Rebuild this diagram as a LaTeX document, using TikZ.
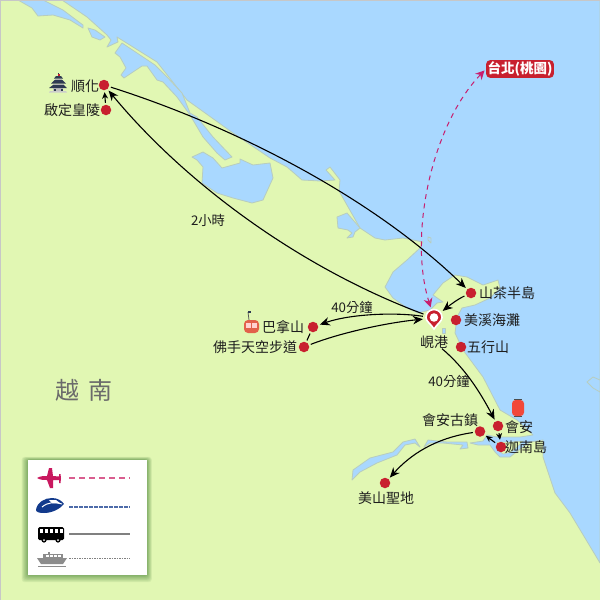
\documentclass[tikz,border=0pt]{standalone}
\usepackage{fontspec}
\setmainfont{Noto Sans CJK TC}
\usetikzlibrary{arrows.meta}
\definecolor{land}{HTML}{E1F7B3}
\definecolor{sea}{HTML}{A9D8FF}
\definecolor{shore}{HTML}{B8CDBE}
\definecolor{dotred}{HTML}{C8202F}
\definecolor{magline}{HTML}{C81E6E}
\definecolor{planered}{HTML}{C9185F}
\definecolor{trainblue}{HTML}{123A8C}
\definecolor{txt}{HTML}{1E1E1E}
\definecolor{roof}{HTML}{2E3A52}
\definecolor{cabin}{HTML}{E2604B}
\definecolor{lantern}{HTML}{F2483A}
\tikzset{
  water/.style={fill=sea,draw=shore,line width=0.8pt,line join=round},
  stop/.style={circle,fill=dotred,minimum size=10.5pt,inner sep=0pt,outer sep=2pt},
  lbl/.style={font=\fontsize{14}{15}\selectfont,text=txt,inner sep=0pt},
  lblsmall/.style={font=\fontsize{13.3}{15}\selectfont,text=txt,inner sep=0pt},
  conn/.style={black,line width=1.1pt,-{Stealth[length=10pt,width=8.5pt]}},
  smallconn/.style={black,line width=1.1pt,-{Stealth[length=6.5pt,width=6pt]}},
  flight/.style={magline,line width=1pt,dash pattern=on 5pt off 4.5pt,{Stealth[length=9pt,width=9pt]}-{Stealth[length=9pt,width=9pt]}}
}
\begin{document}
\begin{tikzpicture}[x=1pt,y=-1pt]
\useasboundingbox (0,0) rectangle (600,600);
\fill[land] (0,0) rectangle (600,600);
% sea
\path[water] (62,0)--(87,17)--(107,35)--(111,40)--(107,47)--(118,42)--(117,37)--(157,62)--(187,100)--(233,133)--(270,158)--(287,167)--(302,180)--(320,181)--(335,180)--(326,170)--(330,167)--(340,180)--(339,191)--(360,228)--(375,238)--(385,240)--(403,238)--(423,242)--(420,248)--(407,260)--(393,272)--(385,287)--(393,298)--(407,308)--(418,313)--(430,310)--(437,303)--(443,302)--(433,295)--(443,283)--(455,275)--(467,277)--(483,285)--(498,280)--(500,288)--(490,298)--(475,305)--(462,308)--(457,317)--(455,333)--(463,350)--(483,377)--(500,410)--(517,420)--(533,435)--(520,437)--(497,437)--(487,435)--(483,441)--(470,443)--(478,445)--(490,445)--(495,452)--(500,457)--(510,457)--(520,449)--(530,442)--(543,440)--(543,457)--(555,493)--(570,513)--(600,563)--(600,0)--cycle;
% lagoons
\path[water] (18,0)--(32,8)--(38,16)--(53,15)--(70,20)--(83,28)--(83,25)--(63,10)--(43,0)--cycle;
\path[water] (88,28)--(95,30)--(105,37)--(100,40)--(92,37)--cycle;
\path[water] (122,43)--(140,55)--(155,65)--(167,77)--(182,93)--(190,113)--(197,117)--(213,137)--(232,157)--(225,160)--(217,153)--(203,137)--(190,115)--(177,97)--(163,82)--(157,80)--(147,66)--(142,66)--(124,78)--(121,75)--(126,68)--(120,57)--(115,53)--cycle;
\path[water] (192,157)--(203,152)--(213,158)--(222,168)--(240,163)--(240,159)--(253,165)--(270,163)--(273,178)--(263,200)--(252,203)--(233,198)--(217,193)--(202,183)--(203,167)--(197,160)--cycle;
\path[water] (337,217)--(347,213)--(360,228)--(355,232)--(353,237)--(347,238)--(352,233)--(348,230)--(338,228)--cycle;
\path[water] (428,237)--(431,238)--(431,243)--(428,240)--cycle;
\path[water] (442,328)--(445,328)--(445,333)--(442,333)--cycle;
\path[water] (587,382)--(593,377)--(600,380)--(600,392)--(593,388)--cycle;
% rivers
\path[water] (352,480)--(353,470)--(370,458)--(393,452)--(403,442)--(415,439)--(420,447)--(415,443)--(405,445)--(397,455)--(377,463)--(360,472)--cycle;
\path[water] (424,447)--(428,440)--(447,442)--(467,442)--(468,448)--(460,449)--(463,445)--(443,443)--(430,443)--cycle;
% island
\path[fill=land,draw=shore,line width=0.5pt] (497,442)--(510,442)--(523,441)--(515,449)--(511,452)--(503,454)--(498,450)--cycle;
% frame
\draw[black!22,line width=1pt] (0,0) rectangle (600,600);
% stops
\node[stop] (hue) at (104,85) {};
\node[stop] (khai) at (106,110) {};
\node[stop] (sontra) at (471,293) {};
\node[stop] (mykhe) at (456,320) {};
\node[stop] (nguhanh) at (461,347) {};
\node[stop] (hoian) at (498,426) {};
\node[stop] (ancient) at (480,431.5) {};
\node[stop] (canam) at (501,447) {};
\node[stop] (myson) at (385,483) {};
\node[stop] (bana) at (313,327) {};
\node[stop] (golden) at (304,347) {};
\node[circle,minimum size=22pt,inner sep=0pt] (danang) at (434,318) {};
% labels
\node[lbl] (lhue) at (85,86) {順化};
\node[lbl] (lkhai) at (72,110) {啟定皇陵};
\node[lblsmall] (ltwo) at (208,220) {2小時};
\node[lbl] (lsontra) at (507,293) {山茶半島};
\node[lbl] (lmykhe) at (492,320) {美溪海灘};
\node[lbl] (lnguhanh) at (488,347) {五行山};
\node[lblsmall] (lforty) at (352,307) {40分鐘};
\node[lbl] (lbana) at (283,327) {巴拿山};
\node[lbl] (lgolden) at (255,347) {佛手天空步道};
\node[lbl] (ldanang) at (434,342) {峴港};
\node[lblsmall] (lfortyb) at (449,381) {40分鐘};
\node[lbl] (lancient) at (450,420) {會安古鎮};
\node[lbl] (lhoian) at (519,427) {會安};
\node[lbl] (lcanam) at (526,447) {迦南島};
\node[lbl] (lmyson) at (386,498) {美山聖地};
\node[inner sep=0pt,font=\fontsize{24}{26}\selectfont,text=black!58] (lviet) at (84,390) {越\hspace{10pt}南};
\node[fill=dotred,rounded corners=4pt,inner sep=1.5pt,text=white,font=\bfseries\fontsize{13.5}{15}\selectfont] (taipei) at (520,69) {台北(桃園)};
% connectors
\draw[conn] (hue) .. controls (230,125) and (370,195) .. (sontra);
\draw[conn] (danang) .. controls (300,268) and (185,183) .. (hue);
\draw[smallconn] (khai) -- (hue);
\draw[flight,shorten <=2pt] (taipei.west) .. controls (432,125) and (408,235) .. (danang);
\draw[conn] (sontra) .. controls (458,299) and (450,305) .. (danang);
\draw[conn] (danang) .. controls (395,312) and (350,314) .. (bana);
\draw[conn] (golden) .. controls (340,333) and (385,323) .. (danang);
\draw[black,line width=1.1pt] (bana) -- (golden);
\draw[conn] (ldanang) .. controls (465,368) and (480,392) .. (hoian);
\draw[smallconn] (hoian) -- (canam);
\draw[smallconn] (canam) -- (ancient);
\draw[conn] (ancient) .. controls (435,438) and (410,455) .. (myson);
% pin
\path[fill=dotred,draw=white,line width=1.6pt] (434,329) .. controls (431,324) and (426,321.5) .. (426,317.5) .. controls (426,313) and (429.5,309.5) .. (434,309.5) .. controls (438.5,309.5) and (442,313) .. (442,317.5) .. controls (442,321.5) and (437,324) .. (434,329) -- cycle;
\fill[white] (434,317.5) circle[radius=4.3];
% pagoda
\fill[black!20] (50,91)--(66,91)--(67,92.5)--(49,92.5)--cycle;
\fill[black!25] (53,88)--(63,88)--(63,91)--(53,91)--cycle;
\fill[roof] (58,73) rectangle (58.8,76);
\fill[dotred] (57.5,74) rectangle (59.5,75.5);
\fill[roof] (54,78.5)--(56,76)--(61,76)--(63,78.5)--cycle;
\fill[black!30] (55,78.5) rectangle (62,80);
\fill[roof] (51,83.5)--(54.5,80)--(62.5,80)--(66,83.5)--cycle;
\fill[black!30] (53,83.5) rectangle (64,85);
\fill[roof] (49,88)--(53,85)--(64,85)--(67,88)--cycle;
\fill[roof] (54,88.5) rectangle (56,91);
\fill[roof] (61,88.5) rectangle (63,91);
% cable car
\draw[black!65,line width=0.8pt] (248,312)--(249,320);
\fill[roof] (247.5,311) rectangle (251,313);
\fill[cabin,rounded corners=4pt] (244,320) rectangle (259,333);
\fill[red!18!white] (246,323) rectangle (251,328);
\fill[red!18!white] (252,323) rectangle (257,328);
% lantern
\fill[black!70] (514,399) rectangle (522,400.2);
\fill[black!70] (514,416) rectangle (522,417);
\fill[lantern,rounded corners=3.5pt] (512,400) rectangle (524,416);
% legend
\foreach \g in {8,7,6,5,4,3,2,1} {
  \fill[black!70!green,opacity=0.06,rounded corners=3pt] (28-\g*0.8,460-\g*0.4) rectangle (147+\g*0.6,575+\g*0.9);
}
\fill[white] (28,460) rectangle (147,575);
\fill[planered] (37,478) .. controls (40,476) and (44,476) .. (47,476) -- (49,468) -- (52,468) -- (53,476) -- (59,476.5) -- (59,474) -- (60.5,474) -- (61,478) -- (60.5,483) -- (59,483) -- (59,480) -- (53,480) -- (53,488) -- (50,488) -- (47,480) .. controls (44,480) and (40,480) .. (37,478) -- cycle;
\fill[trainblue] (36,510) .. controls (37,502) and (45,498) .. (52,498) .. controls (58,498) and (62,501) .. (64,504) .. controls (60,509) and (52,513) .. (44,513) .. controls (39,513) and (36,512) .. (36,510) -- cycle;
\draw[white,line width=1pt] (42,507) .. controls (48,502) and (54,502) .. (62,504);
\fill[white] (49,500) -- (56,500) -- (60,503) -- (52,503) -- cycle;
\fill[black,rounded corners=1.5pt] (38,527) rectangle (64,540);
\foreach \wx in {40,45,50,55,60} { \fill[white] (\wx-0.3,529) rectangle (\wx+3,533); }
\fill[black] (44,540) circle[radius=2.6];
\fill[black] (58,540) circle[radius=2.6];
\fill[white] (44,540) circle[radius=1];
\fill[white] (58,540) circle[radius=1];
\fill[black!45] (37,558) -- (67,558) -- (63,564) -- (41,564) -- cycle;
\fill[black!45] (43,554) rectangle (63,558);
\fill[black!45] (48,552) -- (50,552) -- (50,554) -- (48,554) -- cycle;
\foreach \wx in {46,50,54,58} { \fill[white] (\wx,555) rectangle (\wx+2.5,557); }
\draw[black!45,line width=0.8pt] (38,566)--(66,566);
\draw[planered!70!white,line width=1.2pt,dash pattern=on 5.5pt off 4.5pt] (69,478)--(130,478);
\draw[trainblue!75!white,line width=1.2pt,dash pattern=on 3.5pt off 1.5pt] (69,507)--(130,507);
\draw[black!50,line width=1.6pt] (69,534)--(130,534);
\draw[black!50,line width=0.9pt,dash pattern=on 1.5pt off 1pt] (69,558)--(130,558);
\end{tikzpicture}
\end{document}
